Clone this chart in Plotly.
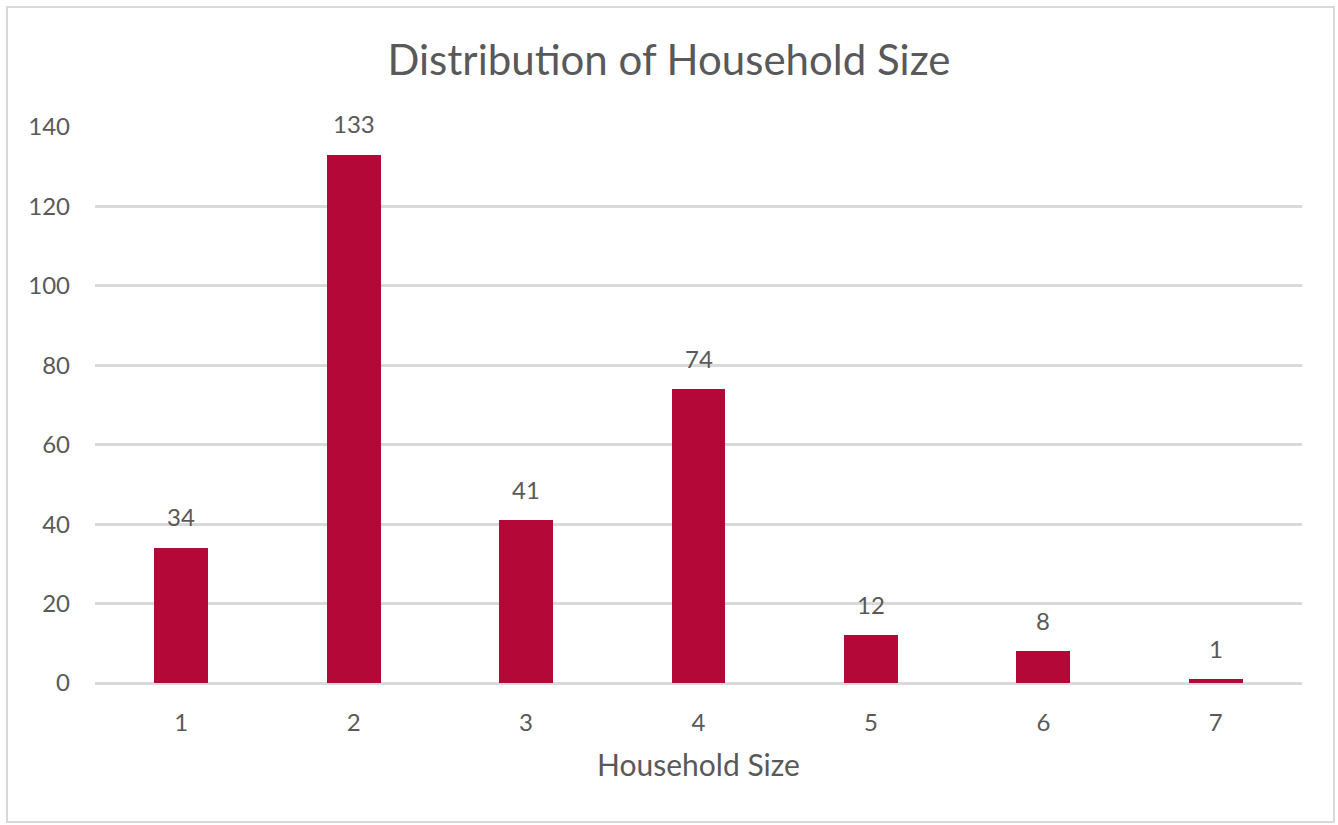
import plotly.graph_objects as go

household_size = [1, 2, 3, 4, 5, 6, 7]
counts = [34, 133, 41, 74, 12, 8, 1]
y_ticks = [0, 20, 40, 60, 80, 100, 120, 140]

font_family = "Lato, 'Open Sans', sans-serif"
text_color = "#595959"
grid_color = "#d9d9d9"

fig = go.Figure()
fig.add_trace(go.Bar(
    x=household_size,
    y=counts,
    width=0.313,
    marker=dict(color="#b30838", line=dict(width=0)),
    hoverinfo="x+y",
))

for x, v in zip(household_size, counts):
    fig.add_annotation(x=x, y=v, text=str(v), showarrow=False,
                       yshift=31, yanchor="middle",
                       font=dict(size=24, color=text_color, family=font_family))

fig.update_layout(
    width=1338, height=825,
    margin=dict(l=95, r=36, t=127, b=142),
    paper_bgcolor="white",
    plot_bgcolor="white",
    showlegend=False,
    title=dict(text="Distribution of Household Size", x=0.5, xanchor="center",
               y=1 - 60 / 825, yanchor="middle",
               font=dict(size=42, color=text_color, family=font_family)),
    font=dict(family=font_family, color=text_color),
    bargap=0,
)

fig.update_xaxes(
    range=[0.5, 7.5],
    tickmode="array", tickvals=household_size,
    ticktext=[str(v) for v in household_size],
    showgrid=False, zeroline=False, showline=False, ticks="",
    ticklabelstandoff=23,
    tickfont=dict(size=24, color=text_color, family=font_family),
    title=dict(text="Household Size", standoff=19,
               font=dict(size=30, color=text_color, family=font_family)),
)

fig.update_yaxes(
    range=[0, 140],
    tickmode="array", tickvals=y_ticks,
    showgrid=True, gridcolor=grid_color, gridwidth=3,
    zeroline=True, zerolinecolor=grid_color, zerolinewidth=3,
    showline=False, ticks="",
    ticklabelstandoff=24,
    tickfont=dict(size=24, color=text_color, family=font_family),
)

# outer chart border
fig.add_shape(type="rect", xref="paper", yref="paper",
              x0=(7 - 95) / 1207, x1=(1334 - 95) / 1207,
              y0=(683 - 822) / 556, y1=(683 - 7) / 556,
              line=dict(color=grid_color, width=2), fillcolor="rgba(0,0,0,0)",
              layer="below")

fig.write_html("out.html")
